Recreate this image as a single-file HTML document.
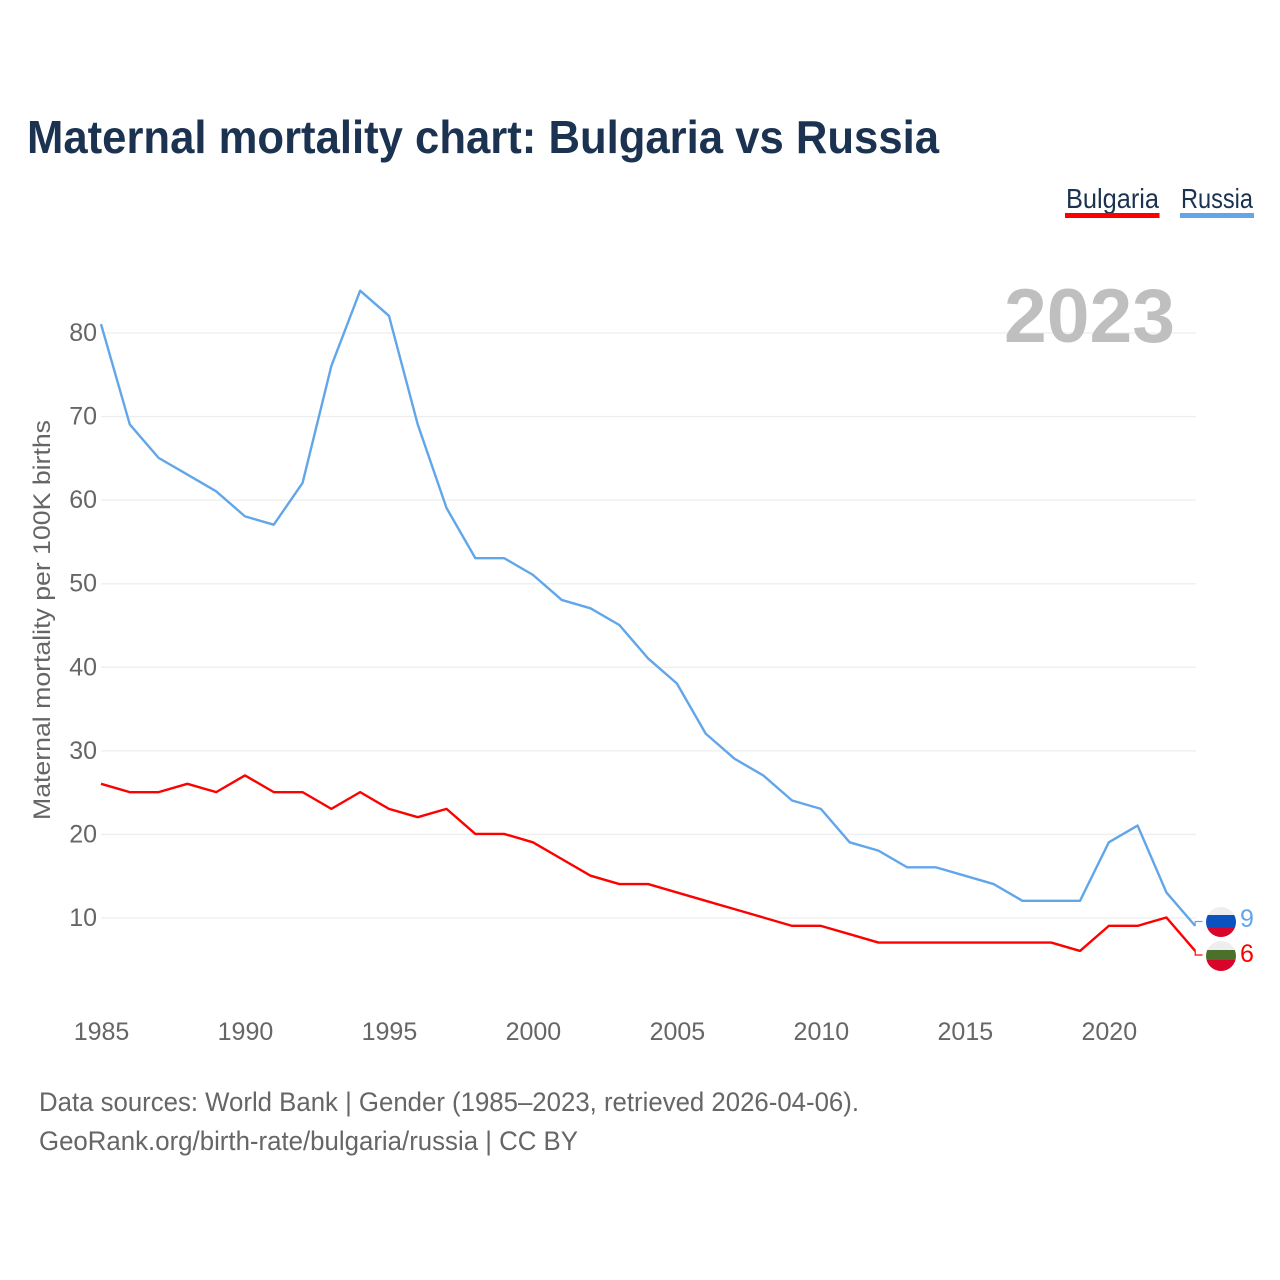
<!DOCTYPE html>
<html lang="en">
<head>
<meta charset="utf-8">
<title>Maternal mortality chart: Bulgaria vs Russia</title>
<style>
html,body{margin:0;padding:0;background:#fff;width:1280px;height:1280px;overflow:hidden}
svg{display:block}
text{font-family:"Liberation Sans",sans-serif}
</style>
</head>
<body>
<svg id="chart" xmlns="http://www.w3.org/2000/svg" width="1280" height="1280" viewBox="0 0 1280 1280">
  <defs>
    <clipPath id="clip-ru"><circle cx="1221" cy="922" r="15"/></clipPath>
    <clipPath id="clip-bg"><circle cx="1221" cy="956" r="15"/></clipPath>
  </defs>
  <rect x="0" y="0" width="1280" height="1280" fill="#ffffff"/>
  <text x="27" y="153" font-size="46" font-weight="700" fill="#1b3250" textLength="912" lengthAdjust="spacingAndGlyphs">Maternal mortality chart: Bulgaria vs Russia</text>

  <g>
    <g>
      <text x="1066" y="208" font-size="28" fill="#1b3250" textLength="93" lengthAdjust="spacingAndGlyphs">Bulgaria</text>
      <rect x="1065" y="213" width="94.5" height="5" fill="#ff0000"/>
    </g>
    <g>
      <text x="1181" y="208" font-size="28" fill="#1b3250" textLength="72" lengthAdjust="spacingAndGlyphs">Russia</text>
      <rect x="1180" y="213" width="74" height="5" fill="#62a6ea"/>
    </g>
  </g>

  <g id="grid"></g>
  <g id="y-ticks"></g>
  <g id="x-ticks"></g>
  <text transform="translate(50,620) rotate(-90)" text-anchor="middle" font-size="24" fill="#666666" textLength="400" lengthAdjust="spacingAndGlyphs">Maternal mortality per 100K births</text>
  <text id="year-label" x="1004" y="342" font-size="76" font-weight="700" fill="#bfbfbf" textLength="171" lengthAdjust="spacingAndGlyphs">2023</text>

  <g id="series" transform="translate(-0.5,-0.5)"></g>

  <g clip-path="url(#clip-ru)">
    <rect x="1206" y="907" width="30" height="8" fill="#eeeeee"/>
    <rect x="1206" y="915" width="30" height="12" fill="#0a52bd"/>
    <rect x="1206" y="927" width="30" height="10" fill="#d90429"/>
  </g>
  <g clip-path="url(#clip-bg)">
    <rect x="1206" y="941" width="30" height="10" fill="#eeeeee"/>
    <rect x="1206" y="950" width="30" height="10" fill="#4c6f2c"/>
    <rect x="1206" y="960" width="30" height="11" fill="#d90429"/>
  </g>
  <text id="end-label-russia" x="1240" y="927" font-size="25" fill="#62a6ea">9</text>
  <text id="end-label-bulgaria" x="1240" y="962" font-size="25" fill="#ff0000">6</text>

  <text x="39" y="1111" font-size="27" fill="#666666" textLength="820" lengthAdjust="spacingAndGlyphs">Data sources: World Bank | Gender (1985–2023, retrieved 2026-04-06).</text>
  <text x="39" y="1150" font-size="27" fill="#666666" textLength="539" lengthAdjust="spacingAndGlyphs">GeoRank.org/birth-rate/bulgaria/russia | CC BY</text>
</svg>
<script>
const years = [1985,1986,1987,1988,1989,1990,1991,1992,1993,1994,1995,1996,1997,1998,1999,2000,2001,2002,2003,2004,2005,2006,2007,2008,2009,2010,2011,2012,2013,2014,2015,2016,2017,2018,2019,2020,2021,2022,2023];
const russia = [81,69,65,63,61,58,57,62,76,85,82,69,59,53,53,51,48,47,45,41,38,32,29,27,24,23,19,18,16,16,15,14,12,12,12,19,21,13,9];
const bulgaria = [26,25,25,26,25,27,25,25,23,25,23,22,23,20,20,19,17,15,14,14,13,12,11,10,9,9,8,7,7,7,7,7,7,7,6,9,9,10,6];
const yTickValues = [10,20,30,40,50,60,70,80];
const xTickValues = [1985,1990,1995,2000,2005,2010,2015,2020];

const NS = 'http://www.w3.org/2000/svg';
const xScale = function (year) { return 101.5 + (year - 1985) * (1195.7 - 101.5) / (2023 - 1985); };
const yScale = function (value) { return 918 - (value - 10) * (918 - 333) / (80 - 10); };

const grid = document.getElementById('grid');
const yTicks = document.getElementById('y-ticks');
const xTicks = document.getElementById('x-ticks');
const seriesGroup = document.getElementById('series');

yTickValues.forEach(function (v) {
  const line = document.createElementNS(NS, 'line');
  
  
  line.setAttribute('x1', 101);
  line.setAttribute('x2', 1196);
  line.setAttribute('y1', yScale(v));
  line.setAttribute('y2', yScale(v));
  line.setAttribute('stroke', '#eeeeee');
  line.setAttribute('stroke-width', '1.3');
  grid.appendChild(line);

  const label = document.createElementNS(NS, 'text');
  
  
  label.setAttribute('x', 97);
  label.setAttribute('y', yScale(v) + 8);
  label.setAttribute('text-anchor', 'end');
  label.setAttribute('font-size', '25');
  label.setAttribute('fill', '#666666');
  label.textContent = v;
  yTicks.appendChild(label);
});

xTickValues.forEach(function (yr) {
  const label = document.createElementNS(NS, 'text');
  
  
  label.setAttribute('x', xScale(yr));
  label.setAttribute('y', 1040);
  label.setAttribute('text-anchor', 'middle');
  label.setAttribute('font-size', '25');
  label.setAttribute('fill', '#666666');
  label.textContent = yr;
  xTicks.appendChild(label);
});

function drawSeries(values, color, name, flagY) {
  const pts = values.map(function (v, i) { return xScale(years[i]).toFixed(2) + ',' + yScale(v).toFixed(2); });
  const path = document.createElementNS(NS, 'polyline');
  
  
  path.setAttribute('points', pts.join(' '));
  path.setAttribute('fill', 'none');
  path.setAttribute('stroke', color);
  path.setAttribute('stroke-width', '2.4');
  path.setAttribute('stroke-linejoin', 'round');
  seriesGroup.appendChild(path);

  const endX = xScale(years[years.length - 1]);
  const endY = yScale(values[values.length - 1]);
  const leader = document.createElementNS(NS, 'polyline');
  
  
  leader.setAttribute('points', endX + ',' + endY + ' ' + endX + ',' + flagY + ' 1203,' + flagY);
  leader.setAttribute('fill', 'none');
  leader.setAttribute('stroke', color);
  leader.setAttribute('stroke-width', '1.2');
  seriesGroup.appendChild(leader);
}

drawSeries(russia, '#62a6ea', 'line-russia', 922);
drawSeries(bulgaria, '#ff0000', 'line-bulgaria', 955.5);

document.getElementById('end-label-russia').textContent = russia[russia.length - 1];
document.getElementById('end-label-bulgaria').textContent = bulgaria[bulgaria.length - 1];
document.getElementById('year-label').textContent = years[years.length - 1];
</script>
</body>
</html>
